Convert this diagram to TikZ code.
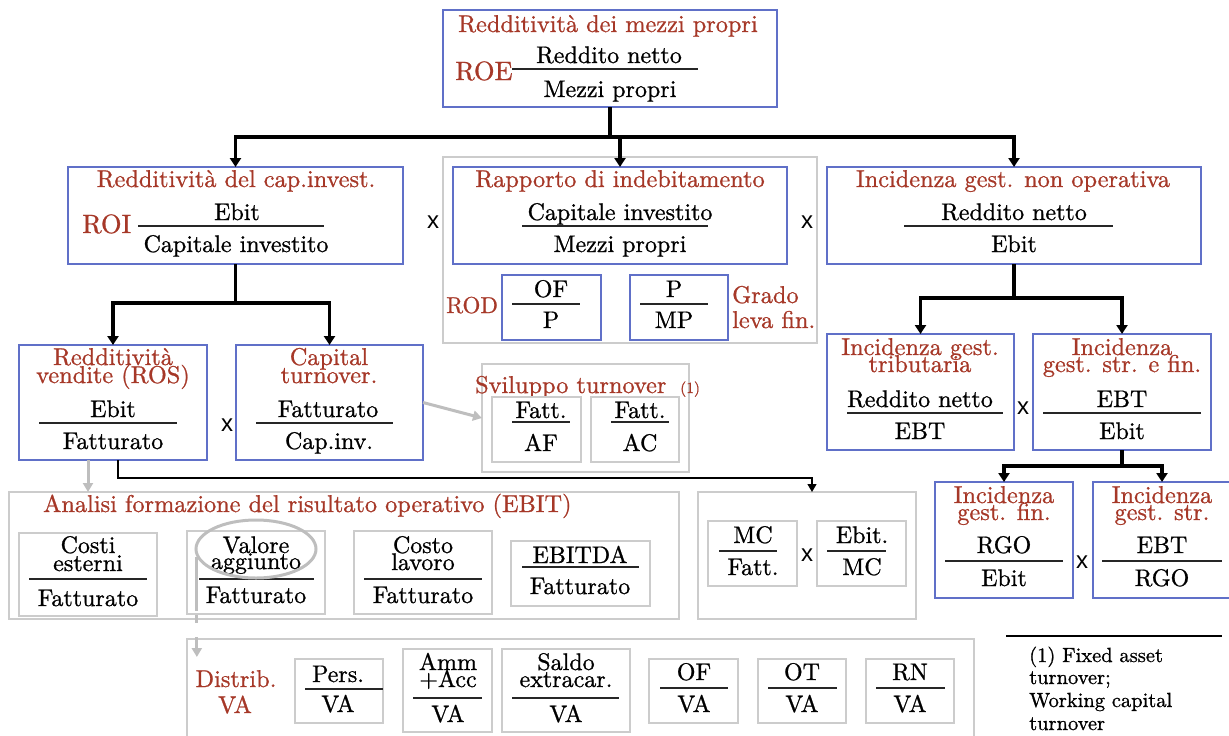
\documentclass[tikz,border=0pt]{standalone}
\usepackage{fontspec}
\setmainfont{lmroman10-regular}[Extension=.otf, FakeBold=0.9]
\newfontfamily\xsans{Liberation Sans}
\usetikzlibrary{arrows.meta,shapes.geometric}

\definecolor{titlered}{RGB}{166,56,40}
\definecolor{boxblue}{RGB}{96,112,200}
\definecolor{boxgray}{RGB}{204,204,204}
\definecolor{arrgray}{RGB}{190,190,190}

\newcommand\bfnt{\fontsize{24}{24}\selectfont}
\newcommand\tfnt{\fontsize{24.3}{24.3}\selectfont}
\newcommand\bigfnt{\fontsize{26.5}{26.5}\selectfont}
\newcommand\rodfnt{\fontsize{23}{23}\selectfont}
\newcommand\smallfnt{\fontsize{15.5}{15.5}\selectfont}
\newcommand\notefnt{\fontsize{20.5}{20.5}\selectfont}
\newcommand\xfnt{\xsans\fontsize{24}{24}\selectfont}

% rectangle node from its top-left and bottom-right corners
\newcommand\panel[6]{\node[#1, anchor=north west, minimum width={#5-#3}, minimum height={#6-#4}] (#2) at (#3,#4) {};}
% fraction bar
\newcommand\fracline[3]{\draw[fracbar] (#1,#3) -- (#2,#3);}

\tikzset{
  panelblue/.style={draw=boxblue, line width=1.3pt, inner sep=0pt, outer sep=0pt},
  panelgray/.style={draw=boxgray, line width=1.5pt, inner sep=0pt, outer sep=0pt},
  lbl/.style={font=\bfnt, text=black, anchor=base, inner sep=0pt},
  ttl/.style={lbl, font=\tfnt, text=titlered},
  times/.style={font=\xfnt, inner sep=0pt},
  fracbar/.style={draw=black!85, line width=1.3pt},
  trunk/.style={draw=black, line width=3.5pt},
  trunkarrow/.style={trunk, -{Triangle[length=9pt,width=11pt]}},
  thinarrow/.style={draw=black, line width=1.3pt, -{Triangle[length=8pt,width=9pt]}},
  hintarrow/.style={draw=arrgray, line width=3pt, -{Triangle[length=9pt,width=10pt]}},
  notelbl/.style={font=\notefnt, anchor=base west, inner sep=0pt},
}

\begin{document}
\begin{tikzpicture}[x=1pt, y=-1pt]
\useasboundingbox (0,0) rectangle (1229,736);
\clip (0,0) rectangle (1229,736);

% ---------- ROE ----------
\panel{panelblue}{roe}{443}{10}{777}{107}
\node[ttl] (roe-t) at (608,32) {Redditività dei mezzi propri};
\node[ttl, font=\bigfnt, anchor=base west] (roe-s) at (455,80) {ROE};
\node[lbl] (roe-n) at (609,63) {Reddito netto};
\fracline{512}{698}{69}
\node[lbl] (roe-d) at (610,97) {Mezzi propri};

% ---------- ROI ----------
\panel{panelblue}{roi}{68}{167}{403}{264}
\node[ttl] (roi-t) at (236,187) {Redditività del cap.invest.};
\node[ttl, font=\bigfnt, anchor=base west] (roi-s) at (82,233) {ROI};
\node[lbl] (roi-n) at (237,220) {Ebit};
\fracline{138}{324}{226}
\node[lbl] (roi-d) at (236,252) {Capitale investito};

% ---------- debt ratio ----------
\panel{panelgray}{rapg}{443}{157}{817}{343}
\panel{panelblue}{rap}{453}{167}{787}{264}
\node[ttl] (rap-t) at (620,187) {Rapporto di indebitamento};
\node[lbl] (rap-n) at (620,220) {Capitale investito};
\fracline{522}{708}{226}
\node[lbl] (rap-d) at (620,252) {Mezzi propri};
\node[ttl, font=\rodfnt, anchor=base west] (rod-s) at (446,313) {ROD};
\panel{panelblue}{rodof}{502}{275}{601}{340}
\node[lbl] (rodof-n) at (551,297) {OF};
\fracline{512}{580}{304}
\node[lbl] (rodof-d) at (551,328) {P};
\panel{panelblue}{rodmp}{630}{275}{728}{340}
\node[lbl] (rodmp-n) at (674,297) {P};
\fracline{640}{708}{304}
\node[lbl] (rodmp-d) at (674,328) {MP};
\node[ttl, anchor=base west] (grado-a) at (732,303) {Grado};
\node[ttl, anchor=base west] (grado-b) at (732,328) {leva fin.};

% ---------- non-operating ----------
\panel{panelblue}{nonop}{827}{167}{1201}{264}
\node[ttl] (nonop-t) at (1013,187) {Incidenza gest. non operativa};
\node[lbl] (nonop-n) at (1014,220) {Reddito netto};
\fracline{904}{1113}{226}
\node[lbl] (nonop-d) at (1014,252) {Ebit};

\node[times] (mul1) at (433,222) {x};
\node[times] (mul2) at (807,222) {x};

% ---------- tax / financial ----------
\panel{panelblue}{trib}{827}{334}{1014}{450}
\node[ttl] (trib-a) at (920,355) {Incidenza gest.};
\node[ttl] (trib-b) at (920,372) {tributaria};
\node[lbl] (trib-n) at (920,407) {Reddito netto};
\fracline{847}{1003}{413}
\node[lbl] (trib-d) at (920,439) {EBT};
\node[times] (mul3) at (1023,408) {x};
\panel{panelblue}{strfin}{1033}{334}{1211}{450}
\node[ttl] (strfin-a) at (1122,355) {Incidenza};
\node[ttl] (strfin-b) at (1122,372) {gest. str. e fin.};
\node[lbl] (strfin-n) at (1122,407) {EBT};
\fracline{1043}{1201}{413}
\node[lbl] (strfin-d) at (1122,439) {Ebit};

\panel{panelblue}{fin}{935}{482}{1073}{598}
\node[ttl] (fin-a) at (1004,503) {Incidenza};
\node[ttl] (fin-b) at (1004,520) {gest. fin.};
\node[lbl] (fin-n) at (1004,553) {RGO};
\fracline{945}{1063}{561}
\node[lbl] (fin-d) at (1004,586) {Ebit};
\node[times] (mul4) at (1082,562) {x};
\panel{panelblue}{str}{1093}{482}{1231}{598}
\node[ttl] (str-a) at (1162,503) {Incidenza};
\node[ttl] (str-b) at (1162,520) {gest. str.};
\node[lbl] (str-n) at (1162,553) {EBT};
\fracline{1102}{1222}{561}
\node[lbl] (str-d) at (1162,586) {RGO};

% ---------- ROS and turnover ----------
\panel{panelblue}{ros}{19}{345}{207}{460}
\node[ttl] (ros-a) at (113,365) {Redditività};
\node[ttl] (ros-b) at (113,383) {vendite (ROS)};
\node[lbl] (ros-n) at (113,417) {Ebit};
\fracline{39}{177}{423}
\node[lbl] (ros-d) at (113,449) {Fatturato};
\node[times] (mul5) at (227,425) {x};
\panel{panelblue}{cap}{236}{345}{423}{460}
\node[ttl] (cap-a) at (329,365) {Capital};
\node[ttl] (cap-b) at (329,383) {turnover.};
\node[lbl] (cap-n) at (328,417) {Fatturato};
\fracline{256}{393}{423}
\node[lbl] (cap-d) at (329,449) {Cap.inv.};

\panel{panelgray}{svil}{482}{364}{689}{472}
\node[ttl, anchor=base west] (svil-t) at (475,393) {Sviluppo turnover};
\node[ttl, font=\smallfnt, anchor=base west] (svil-r) at (680,393) {(1)};
\panel{panelgray}{af}{492}{397}{581}{462}
\node[lbl] (af-n) at (541,418) {Fatt.};
\fracline{512}{570}{422}
\node[lbl] (af-d) at (541,451) {AF};
\panel{panelgray}{ac}{591}{397}{679}{462}
\node[lbl] (ac-n) at (640,418) {Fatt.};
\fracline{611}{669}{422}
\node[lbl] (ac-d) at (640,451) {AC};

% ---------- operating result ----------
\panel{panelgray}{ana}{9}{492}{679}{619}
\node[ttl, anchor=base west] (ana-t) at (43,512) {Analisi formazione del risultato operativo (EBIT)};
\panel{panelgray}{costi}{19}{533}{157}{616}
\node[lbl] (costi-a) at (88,553) {Costi};
\node[lbl] (costi-b) at (88,571) {esterni};
\fracline{29}{147}{579}
\node[lbl] (costi-d) at (88,606) {Fatturato};
\panel{panelgray}{valore}{187}{531}{325}{614}
\node[lbl] (valore-a) at (256,553) {Valore};
\node[lbl] (valore-b) at (256,569) {aggiunto};
\fracline{199}{314}{579}
\node[lbl] (valore-d) at (256,603) {Fatturato};
\panel{panelgray}{lavoro}{354}{531}{492}{614}
\node[lbl] (lavoro-a) at (423,553) {Costo};
\node[lbl] (lavoro-b) at (423,570) {lavoro};
\fracline{364}{482}{579}
\node[lbl] (lavoro-d) at (423,603) {Fatturato};
\panel{panelgray}{ebitda}{511}{541}{650}{606}
\node[lbl] (ebitda-n) at (580,563) {EBITDA};
\fracline{522}{639}{567}
\node[lbl] (ebitda-d) at (580,594) {Fatturato};
\node[ellipse, draw=arrgray, line width=3pt, minimum width=120, minimum height=58, inner sep=0pt] (ring) at (256,549) {};

% ---------- contribution margin ----------
\panel{panelgray}{mco}{698}{492}{916}{619}
\panel{panelgray}{mcf}{708}{521}{797}{586}
\node[lbl] (mcf-n) at (753,543) {MC};
\fracline{719}{777}{551}
\node[lbl] (mcf-d) at (753,575) {Fatt.};
\node[times] (mul6) at (807,555) {x};
\panel{panelgray}{ebmc}{817}{521}{906}{586}
\node[lbl] (ebmc-n) at (862,543) {Ebit.};
\fracline{827}{886}{551}
\node[lbl] (ebmc-d) at (862,575) {MC};

% ---------- value added distribution ----------
\panel{panelgray}{dist}{187}{639}{974}{760}
\node[ttl] (dist-a) at (236,687) {Distrib.};
\node[ttl] (dist-b) at (235,713) {VA};
\panel{panelgray}{pers}{295}{659}{383}{723}
\node[lbl] (pers-n) at (338,682) {Pers.};
\fracline{305}{383}{689}
\node[lbl] (pers-d) at (338,712) {VA};
\panel{panelgray}{amm}{403}{649}{492}{732}
\node[lbl] (amm-a) at (448,670) {Amm};
\node[lbl] (amm-b) at (448,687) {+Acc};
\fracline{413}{482}{698}
\node[lbl] (amm-d) at (448,722) {VA};
\panel{panelgray}{saldo}{502}{649}{630}{732}
\node[lbl] (saldo-a) at (566,670) {Saldo};
\node[lbl] (saldo-b) at (566,687) {extracar.};
\fracline{512}{619}{698}
\node[lbl] (saldo-d) at (566,722) {VA};
\panel{panelgray}{of}{649}{659}{738}{723}
\node[lbl] (of-n) at (694,680) {OF};
\fracline{660}{728}{688}
\node[lbl] (of-d) at (694,712) {VA};
\panel{panelgray}{ot}{758}{659}{846}{723}
\node[lbl] (ot-n) at (802,680) {OT};
\fracline{768}{837}{688}
\node[lbl] (ot-d) at (802,712) {VA};
\panel{panelgray}{rn}{866}{659}{954}{723}
\node[lbl] (rn-n) at (910,680) {RN};
\fracline{876}{945}{688}
\node[lbl] (rn-d) at (910,712) {VA};

% ---------- footnote ----------
\draw[line width=1.3pt] (1006,636) -- (1222,636);
\node[notelbl] (note-a) at (1029,662) {(1) Fixed asset};
\node[notelbl] (note-b) at (1029,684) {turnover;};
\node[notelbl] (note-c) at (1029,707) {Working capital};
\node[notelbl] (note-d) at (1029,730) {turnover};

% ---------- connectors ----------
\coordinate (bus0) at (0,137);
\draw[trunk] (roe.south) -- (roe.south |- bus0);
\draw[trunkarrow] (roe.south |- bus0) -| (roi.north);
\draw[trunkarrow] (roe.south |- bus0) -| (nonop.north);
\draw[trunkarrow] (rap.north |- bus0) -- (rap.north);

\coordinate (bus1) at (0,303);
\draw[trunk] (roi.south) -- (roi.south |- bus1);
\draw[trunkarrow] (roi.south |- bus1) -| (ros.north);
\draw[trunkarrow] (roi.south |- bus1) -| (cap.north);

\coordinate (bus2) at (0,298);
\draw[trunk] (nonop.south) -- (nonop.south |- bus2);
\draw[trunkarrow] (nonop.south |- bus2) -| (trib.north);
\draw[trunkarrow] (nonop.south |- bus2) -| (strfin.north);

\coordinate (bus3) at (0,466);
\draw[trunk] (strfin.south) -- (strfin.south |- bus3);
\draw[trunkarrow] (strfin.south |- bus3) -| (fin.north);
\draw[trunkarrow] (strfin.south |- bus3) -| (str.north);

\coordinate (bus4) at (0,478);
\coordinate (thinA) at ([xshift=5pt]ros.south);
\coordinate (thinB) at ([xshift=5pt]mco.north);
\draw[thinarrow] (thinA) -- (thinA |- bus4) -| (thinB);

\coordinate (hintA) at ([xshift=-25pt]ros.south);
\draw[hintarrow] (hintA) -- (hintA |- ana.north);
\draw[hintarrow] (cap.east) -- (svil.west);
\coordinate (vatip) at (197,657);
\draw[hintarrow, dash pattern=on 54pt off 4pt on 8pt off 14pt on 60pt] (ring.188) -- (ring.188 |- vatip);

\end{tikzpicture}
\end{document}
